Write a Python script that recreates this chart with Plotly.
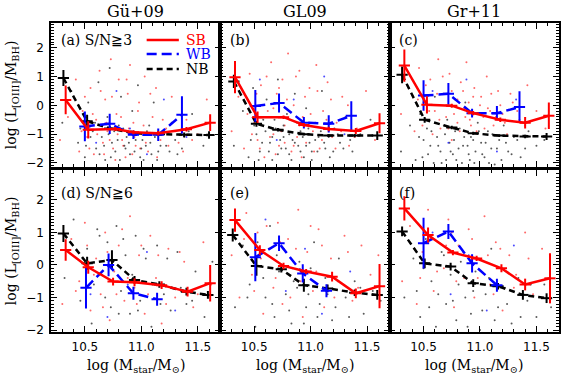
import plotly.graph_objects as go

COL_TITLES = ["Gü+09", "GL09", "Gr+11"]
PANEL_LABELS = ["(a) S/N≧3", "(b)", "(c)", "(d) S/N≧6", "(e)", "(f)"]
X_TICKS = [10.5, 11.0, 11.5]
X_TICK_TEXT = ["10.5", "11.0", "11.5"]
Y_TICKS = [-2, -1, 0, 1, 2]
X_TITLE = "log (M<sub>star</sub>/M<sub>⊙</sub>)"
Y_TITLE = "log (L<sub>[OIII]</sub>/M<sub>BH</sub>)"
LEGEND_NAMES = ["SB", "WB", "NB"]

# ---- binned medians (x, y, error) per panel ----
SB_X = [[10.33, 10.53, 10.77, 10.93, 11.15, 11.40, 11.61],
        [10.33, 10.53, 10.76, 10.94, 11.16, 11.40, 11.61],
        [10.33, 10.53, 10.75, 10.94, 11.18, 11.40, 11.61],
        [10.33, 10.53, 10.75, 10.94, 11.18, 11.41, 11.61],
        [10.33, 10.55, 10.76, 10.96, 11.19, 11.40, 11.61],
        [10.33, 10.54, 10.76, 10.97, 11.19, 11.40, 11.62]]
SB_Y = [[0.19, -0.85, -0.82, -0.93, -0.97, -0.83, -0.60],
        [0.98, -0.41, -0.41, -0.68, -0.82, -0.89, -0.62],
        [1.38, 0.02, -0.01, -0.27, -0.50, -0.60, -0.36],
        [0.46, -0.07, -0.51, -0.53, -0.62, -0.82, -0.56],
        [1.38, 0.46, -0.03, -0.20, -0.36, -0.87, -0.65],
        [1.74, 0.92, 0.38, 0.20, -0.10, -0.60, -0.41]]
SB_ERR = [[0.50, 0.30, 0.07, 0.07, 0.08, 0.08, 0.29],
          [0.56, 0.20, 0.06, 0.07, 0.08, 0.10, 0.35],
          [0.56, 0.30, 0.07, 0.07, 0.08, 0.20, 0.46],
          [0.33, 0.20, 0.12, 0.12, 0.12, 0.15, 0.56],
          [0.36, 0.15, 0.10, 0.08, 0.15, 0.15, 0.68],
          [0.37, 0.23, 0.08, 0.08, 0.12, 0.18, 0.77]]

WB_X = [[10.50, 10.72, 10.93, 11.15, 11.36],
        [10.51, 10.72, 10.94, 11.16, 11.36],
        [10.50, 10.72, 10.93, 11.15, 11.35],
        [10.51, 10.71, 10.93, 11.14],
        [10.51, 10.72, 10.93, 11.14],
        [10.50, 10.72, 10.93, 11.15]]
WB_Y = [[-0.73, -0.64, -1.02, -1.02, -0.33],
        [-0.02, 0.08, -0.60, -0.64, -0.36],
        [0.34, 0.40, -0.27, -0.27, -0.06],
        [-0.70, 0.00, -0.87, -1.05],
        [0.24, 0.67, -0.26, -0.79],
        [0.67, 1.03, 0.05, -0.62]]
WB_ERR = [[0.52, 0.35, 0.15, 0.22, 0.65],
          [0.55, 0.33, 0.20, 0.30, 0.50],
          [0.53, 0.38, 0.15, 0.25, 0.55],
          [0.64, 0.35, 0.20, 0.20],
          [0.74, 0.24, 0.28, 0.20],
          [0.78, 0.23, 0.28, 0.20]]

NB_X = [[10.31, 10.52, 10.72, 10.94, 11.16, 11.38, 11.60],
        [10.32, 10.52, 10.71, 10.94, 11.16, 11.39, 11.59],
        [10.31, 10.51, 10.75, 10.94, 11.17, 11.40, 11.59],
        [10.31, 10.52, 10.74, 10.94, 11.16, 11.40, 11.59],
        [10.31, 10.52, 10.74, 10.94, 11.15, 11.39, 11.59],
        [10.31, 10.51, 10.74, 10.94, 11.16, 11.38, 11.59]]
NB_Y = [[0.95, -0.55, -0.80, -0.97, -1.00, -1.02, -1.03],
        [0.83, -0.64, -0.85, -1.00, -1.05, -1.05, -1.05],
        [1.06, -0.50, -0.77, -0.97, -1.05, -1.08, -1.08],
        [0.97, 0.05, 0.15, -0.46, -0.60, -0.82, -0.92],
        [0.92, -0.03, -0.13, -0.62, -0.72, -0.85, -0.92],
        [1.03, 0.05, -0.05, -0.56, -0.65, -0.92, -1.02]]
NB_ERR = [[0.28, 0.22, 0.08, 0.06, 0.06, 0.08, 0.13],
          [0.23, 0.10, 0.06, 0.05, 0.05, 0.06, 0.15],
          [0.29, 0.10, 0.06, 0.05, 0.05, 0.06, 0.12],
          [0.26, 0.20, 0.30, 0.12, 0.10, 0.12, 0.12],
          [0.20, 0.30, 0.10, 0.20, 0.12, 0.10, 0.15],
          [0.15, 0.15, 0.12, 0.12, 0.10, 0.15, 0.15]]

# ---- individual galaxies (sparse reading of the point clouds) ----
DOTS_SB = [
    [(10.28,-1.2),(10.35,-0.4),(10.42,0.9),(10.45,-1.6),(10.48,-0.2),(10.52,-1.1),(10.55,0.6),(10.58,-1.7),(10.6,-0.5),(10.63,1.2),(10.66,-1.3),(10.68,0.2),(10.7,-0.9),(10.73,1.6),(10.75,-1.5),(10.78,-0.3),(10.8,0.9),(10.83,-1.2),(10.86,-1.8),(10.88,0.4),(10.9,1.4),(10.93,-0.6),(10.95,-1.4),(10.98,0.1),(11.0,-1.0),(11.03,1.0),(11.06,-1.6),(11.1,-0.4),(11.13,0.6),(11.17,-1.2),(11.22,-0.8),(11.27,0.3),(11.33,-1.3),(11.4,-0.5),(11.5,-1.0),(11.58,0.2),
     (10.47,-0.9),(10.5,0.3),(10.54,-1.5),(10.57,-0.3),(10.61,-1.0),(10.64,0.5),(10.67,-1.7),(10.69,-0.6),(10.72,-1.2),(10.74,0.3),(10.77,-1.9),(10.79,-1.0),(10.82,-0.4),(10.84,-1.4),(10.87,0.9),(10.89,-0.8),(10.92,-1.7),(10.94,-1.1),(10.97,-0.2),(10.99,-1.5),(11.02,-0.7),(11.04,-1.3),(11.08,0.4),(11.11,-1.0),(11.14,-1.8),(11.19,-0.5),(11.24,-1.4),(11.3,-0.9),(11.37,-1.6),(11.45,-1.2)],
    [(10.3,-0.9),(10.36,0.3),(10.41,-1.5),(10.46,1.1),(10.5,-0.6),(10.53,-1.2),(10.56,0.7),(10.59,-1.8),(10.62,-0.2),(10.65,1.5),(10.67,-1.0),(10.7,0.4),(10.72,-1.4),(10.75,0.9),(10.77,-0.7),(10.8,1.8),(10.83,-1.6),(10.85,0.0),(10.88,-1.1),(10.9,1.2),(10.93,-0.4),(10.96,-1.3),(10.99,0.6),(11.02,-0.9),(11.05,1.4),(11.08,-1.5),(11.11,-0.2),(11.15,0.8),(11.19,-1.1),(11.23,-0.6),(11.28,0.3),(11.34,-1.4),(11.41,-0.8),(11.49,0.5),(11.57,-1.2),
     (10.44,-0.3),(10.48,-1.0),(10.52,0.4),(10.55,-1.5),(10.58,-0.4),(10.61,1.0),(10.64,-1.1),(10.67,-0.1),(10.69,-1.7),(10.72,0.6),(10.74,-0.9),(10.77,-1.3),(10.79,0.2),(10.82,-0.5),(10.85,-1.4),(10.87,1.0),(10.9,-0.7),(10.92,-1.8),(10.95,0.3),(10.98,-1.0),(11.0,-0.3),(11.03,-1.6),(11.06,0.5),(11.1,-1.2),(11.14,-0.5),(11.18,0.2),(11.22,-1.5),(11.27,-0.9),(11.33,0.0),(11.39,-1.1)],
    [(10.3,-0.3),(10.37,0.6),(10.42,-0.9),(10.46,1.3),(10.5,0.1),(10.53,-0.5),(10.56,0.9),(10.6,-0.2),(10.63,1.6),(10.65,-0.8),(10.68,0.4),(10.7,-0.4),(10.73,1.1),(10.75,-1.2),(10.78,0.2),(10.8,-0.6),(10.83,0.8),(10.86,-0.1),(10.88,1.5),(10.91,-0.5),(10.94,0.3),(10.97,-0.9),(11.0,0.0),(11.03,-0.4),(11.06,1.0),(11.09,-0.2),(11.12,-0.7),(11.16,0.5),(11.2,-0.3),(11.24,-1.0),(11.29,0.1),(11.35,-0.5),(11.42,0.7),(11.5,-0.2),(11.58,-0.8),
     (10.45,0.2),(10.49,-0.7),(10.52,0.7),(10.55,-0.2),(10.58,-1.0),(10.62,0.4),(10.64,-0.5),(10.67,1.0),(10.7,0.0),(10.72,-0.8),(10.75,0.5),(10.77,-0.3),(10.8,0.2),(10.82,-0.9),(10.85,0.5),(10.87,-0.4),(10.9,0.1),(10.92,-0.7),(10.95,0.6),(10.98,-0.3),(11.01,0.3),(11.04,-0.8),(11.07,-0.1),(11.1,0.4),(11.14,-0.4),(11.18,0.0),(11.22,-0.6),(11.27,0.4),(11.33,-0.2),(11.4,-0.7)],
    [(10.3,-1.2),(10.38,0.8),(10.45,-0.5),(10.5,1.3),(10.55,-1.4),(10.6,0.2),(10.64,-0.9),(10.68,1.0),(10.72,-1.7),(10.76,-0.2),(10.8,0.6),(10.85,-1.1),(10.9,1.5),(10.94,-0.7),(10.98,0.3),(11.03,-1.5),(11.08,0.9),(11.13,-0.4),(11.18,-1.8),(11.24,0.5),(11.3,-1.0),(11.38,0.1),(11.46,-1.3),(11.55,0.7),(11.62,-0.6),
     (10.42,-0.8),(10.52,0.6),(10.58,-0.3),(10.66,-1.3),(10.7,0.4),(10.78,-0.9),(10.83,1.1),(10.88,-0.4),(10.96,-1.2),(11.0,0.6),(11.06,-0.9),(11.15,0.3),(11.22,-1.2),(11.34,0.4),(11.5,-0.9)],
    [(10.3,0.3),(10.37,-1.0),(10.43,1.6),(10.48,-0.3),(10.53,1.0),(10.58,-1.5),(10.63,0.5),(10.67,-0.7),(10.71,1.3),(10.75,-1.2),(10.8,0.8),(10.84,-0.1),(10.89,1.7),(10.93,-1.6),(10.97,0.4),(11.02,-0.8),(11.07,1.1),(11.12,-1.3),(11.18,0.2),(11.24,-0.5),(11.3,0.9),(11.37,-1.1),(11.45,0.6),(11.53,-0.3),(11.6,0.3),
     (10.41,0.8),(10.5,-0.8),(10.56,0.2),(10.61,1.2),(10.69,-0.4),(10.73,0.7),(10.82,-1.0),(10.87,0.5),(10.91,-0.5),(11.0,1.2),(11.05,-0.2),(11.1,0.6),(11.21,-1.0),(11.33,0.4),(11.42,-0.7)],
    [(10.31,-0.5),(10.38,1.2),(10.44,-1.2),(10.49,0.4),(10.54,1.7),(10.59,-0.8),(10.64,0.9),(10.68,-0.1),(10.72,1.4),(10.77,-1.3),(10.81,0.6),(10.86,-0.4),(10.9,1.1),(10.95,-1.0),(10.99,0.2),(11.04,1.5),(11.09,-0.6),(11.14,0.7),(11.2,-1.4),(11.26,0.3),(11.32,-0.3),(11.4,1.0),(11.47,-0.9),(11.55,0.5),(11.62,-0.2),
     (10.42,0.5),(10.47,-0.4),(10.56,0.8),(10.62,-0.2),(10.7,0.6),(10.75,1.0),(10.79,-0.5),(10.85,0.4),(10.93,0.8),(10.98,-0.4),(11.07,0.3),(11.12,-0.9),(11.18,0.5),(11.3,-0.7),(11.43,0.2)],
]
DOTS_NB = [
    [(10.3,-0.6),(10.38,0.5),(10.44,-1.3),(10.5,-1.8),(10.53,0.1),(10.57,-0.9),(10.6,-1.5),(10.62,0.8),(10.65,-1.1),(10.68,-1.9),(10.7,-0.4),(10.72,1.3),(10.74,-1.3),(10.77,-1.6),(10.8,-0.7),(10.82,0.3),(10.85,-1.4),(10.87,-1.1),(10.9,-1.7),(10.92,-0.2),(10.95,-1.2),(10.97,0.7),(11.0,-1.5),(11.02,-1.9),(11.05,-0.9),(11.08,-1.3),(11.11,0.1),(11.15,-1.6),(11.18,-1.0),(11.22,-1.4),(11.27,-0.6),(11.32,-1.7),(11.38,-1.1),(11.45,-0.3),(11.55,-1.4),
     (10.46,-0.8),(10.51,-1.4),(10.55,-1.1),(10.59,-0.6),(10.63,-1.7),(10.67,-1.4),(10.71,-1.0),(10.73,-1.8),(10.76,-0.9),(10.79,-1.2),(10.81,-1.9),(10.84,-0.8),(10.86,-1.5),(10.89,-1.3),(10.91,-0.9),(10.94,-1.6),(10.96,-1.0),(10.99,-1.8),(11.01,-1.2),(11.04,-1.4),(11.07,-0.7),(11.09,-1.7),(11.12,-1.1),(11.14,-1.9),(11.17,-1.4),(11.2,-0.9),(11.25,-1.6),(11.3,-1.2),(11.36,-1.5),(11.42,-0.9)],
    [(10.32,-1.4),(10.4,-0.2),(10.45,-1.8),(10.49,0.6),(10.52,-1.0),(10.55,-1.6),(10.58,-0.5),(10.61,0.2),(10.64,-1.3),(10.66,-1.9),(10.69,-0.8),(10.71,0.9),(10.74,-1.5),(10.76,-1.1),(10.79,-0.3),(10.81,-1.7),(10.84,-1.2),(10.86,0.4),(10.89,-1.4),(10.91,-0.9),(10.94,-1.8),(10.96,-0.1),(10.99,-1.3),(11.01,-1.6),(11.04,-0.6),(11.07,-1.1),(11.1,0.5),(11.13,-1.5),(11.17,-1.8),(11.21,-0.8),(11.26,-1.3),(11.31,-0.4),(11.37,-1.6),(11.44,-1.0),(11.53,-0.5),
     (10.47,-1.2),(10.5,-0.7),(10.54,-1.9),(10.57,-1.3),(10.6,-0.9),(10.63,-1.6),(10.66,-1.1),(10.68,-0.5),(10.71,-1.7),(10.73,-1.2),(10.76,-0.7),(10.78,-1.5),(10.81,-1.0),(10.83,-1.9),(10.86,-1.3),(10.88,-0.6),(10.91,-1.6),(10.93,-1.1),(10.96,-1.4),(10.98,-0.8),(11.01,-1.9),(11.04,-1.2),(11.06,-1.6),(11.09,-0.9),(11.12,-1.3),(11.16,-1.1),(11.2,-1.6),(11.24,-1.0),(11.29,-1.5),(11.35,-1.2)],
    [(10.3,-1.6),(10.38,-0.7),(10.43,-1.9),(10.47,-0.3),(10.5,-1.2),(10.54,-1.7),(10.57,-0.9),(10.6,0.3),(10.63,-1.4),(10.66,-2.0),(10.69,-1.0),(10.71,-0.5),(10.74,-1.6),(10.77,-1.2),(10.79,-1.9),(10.82,-0.8),(10.85,-1.4),(10.87,0.1),(10.9,-1.7),(10.92,-1.1),(10.95,-2.0),(10.98,-0.6),(11.01,-1.3),(11.04,-1.8),(11.07,-0.9),(11.1,-1.5),(11.13,-2.05),(11.17,-1.2),(11.21,-0.7),(11.25,-1.6),(11.3,-1.1),(11.36,-1.8),(11.43,-0.9),(11.5,-1.4),(11.57,-1.2),
     (10.46,-1.1),(10.49,-1.8),(10.53,-0.8),(10.56,-1.4),(10.59,-2.0),(10.62,-1.1),(10.65,-1.6),(10.68,-0.7),(10.7,-1.9),(10.73,-1.3),(10.76,-1.7),(10.78,-0.9),(10.81,-1.5),(10.84,-2.0),(10.86,-1.1),(10.89,-1.4),(10.91,-1.9),(10.94,-1.2),(10.96,-1.6),(10.99,-0.9),(11.02,-1.7),(11.05,-1.3),(11.08,-2.0),(11.11,-1.0),(11.15,-1.5),(11.19,-1.9),(11.23,-1.3),(11.28,-1.7),(11.33,-1.2),(11.4,-1.5)],
    [(10.32,-0.4),(10.4,1.4),(10.46,-1.1),(10.52,0.5),(10.56,-1.8),(10.61,1.1),(10.65,-0.3),(10.7,0.7),(10.73,-1.3),(10.78,1.2),(10.82,-0.8),(10.86,0.3),(10.9,-1.5),(10.95,0.9),(10.99,-1.1),(11.04,0.2),(11.09,-1.9),(11.14,0.6),(11.2,-0.9),(11.26,-1.4),(11.32,0.4),(11.4,-1.2),(11.48,-0.2),(11.56,-1.6),(11.63,0.1),
     (10.48,0.2),(10.58,-0.6),(10.63,0.9),(10.68,-1.0),(10.75,0.1),(10.8,-1.5),(10.84,0.8),(10.92,-0.3),(10.97,-1.4),(11.02,0.5),(11.1,-0.6),(11.17,-1.2),(11.23,0.2),(11.35,-0.7),(11.45,-1.1)],
    [(10.33,-1.3),(10.4,0.6),(10.46,-0.6),(10.51,-1.9),(10.55,0.3),(10.6,-1.0),(10.64,1.2),(10.68,-1.6),(10.72,-0.2),(10.76,0.5),(10.81,-1.4),(10.85,-0.5),(10.9,0.1),(10.94,-1.8),(10.98,-0.9),(11.03,0.7),(11.08,-1.2),(11.13,-0.4),(11.19,-1.7),(11.25,0.2),(11.31,-1.0),(11.39,-0.5),(11.47,-1.5),(11.55,-0.8),(11.62,-1.1),
     (10.44,-1.0),(10.53,0.7),(10.58,-0.4),(10.66,-1.2),(10.7,0.3),(10.78,-0.9),(10.83,-1.8),(10.88,-0.7),(10.96,-1.3),(11.0,-0.1),(11.06,-1.6),(11.15,-0.9),(11.22,-1.3),(11.34,-1.6),(11.44,-0.7)],
    [(10.33,-1.0),(10.41,0.2),(10.47,-1.6),(10.52,0.8),(10.57,-0.5),(10.61,-1.9),(10.66,0.4),(10.7,-1.2),(10.74,-0.3),(10.79,-1.7),(10.83,0.1),(10.87,-1.0),(10.92,-1.5),(10.96,-0.2),(11.0,-2.0),(11.05,-0.9),(11.1,0.5),(11.16,-1.3),(11.22,-0.7),(11.28,-1.8),(11.34,-0.4),(11.42,-1.1),(11.5,-1.6),(11.57,-0.6),(11.63,-1.3),
     (10.44,-0.8),(10.5,-0.1),(10.55,-1.3),(10.63,-0.9),(10.68,0.3),(10.76,-1.1),(10.81,-0.6),(10.89,-1.9),(10.94,-0.8),(11.02,-1.4),(11.08,-0.4),(11.13,-1.7),(11.24,-1.2),(11.36,-1.6),(11.45,-0.6)],
]
DOTS_WB = [
    [(10.6,-1.3),(10.78,0.5),(10.9,-0.8),(11.05,-1.7),(11.2,0.2),(11.4,-1.1)],
    [(10.55,0.9),(10.7,-1.2),(10.85,0.2),(10.98,-0.7),(11.12,1.0),(11.3,-1.0)],
    [(10.58,0.5),(10.72,-1.3),(10.88,0.9),(11.0,-0.3),(11.15,-1.6),(11.32,0.2)],
    [(10.55,-0.9),(10.7,-1.6),(10.88,-0.6),(11.05,0.4),(11.3,-1.4)],
    [(10.6,1.4),(10.78,-0.8),(10.95,0.5),(11.1,-1.5),(11.35,-0.2)],
    [(10.58,1.0),(10.74,-0.9),(10.9,0.3),(11.06,-1.4),(11.3,0.6)],
]

RED, BLUE, BLACK = "#ff0000", "#0000ff", "#000000"
DASH_WB, DASH_NB = "10px,5px", "6px,4px"
SERIF = "DejaVu Serif"
SANS = "DejaVu Sans"

XDOM = [[0.0, 0.3333], [0.3333, 0.6667], [0.6667, 1.0]]
YDOM = [[0.534, 1.0], [0.0, 0.5243]]
YRANGE = [[-2.14, 2.86], [-2.06, 2.92]]
XRANGE = [10.2, 11.7]

fig = go.Figure()
layout = dict(
    width=567, height=378, margin=dict(l=51, r=6, t=23, b=46),
    paper_bgcolor="white", plot_bgcolor="white", showlegend=False,
    font=dict(family=SERIF, size=14, color="black"),
)

for i in range(6):
    row, col = divmod(i, 3)
    k = i + 1
    xa = "x" if k == 1 else f"x{k}"
    ya = "y" if k == 1 else f"y{k}"
    layout["xaxis" if k == 1 else f"xaxis{k}"] = dict(
        domain=XDOM[col], anchor=ya, range=XRANGE,
        tickvals=X_TICKS, ticktext=X_TICK_TEXT, showticklabels=(row == 1),
        ticks="inside", ticklen=6, tickwidth=1, tickcolor="black",
        minor=dict(dtick=0.1, tick0=10.2, ticks="inside", ticklen=3, tickcolor="black"),
        mirror="ticks", showline=True, linewidth=1.5, linecolor="black",
        showgrid=False, zeroline=False,
        tickfont=dict(family=SANS, size=12), ticklabelstandoff=3,
    )
    layout["yaxis" if k == 1 else f"yaxis{k}"] = dict(
        domain=YDOM[row], anchor=xa, range=YRANGE[row],
        tickvals=Y_TICKS, showticklabels=(col == 0),
        ticks="inside", ticklen=6, tickwidth=1, tickcolor="black",
        minor=dict(dtick=0.1, tick0=0, ticks="inside", ticklen=3, tickcolor="black"),
        mirror="ticks", showline=True, linewidth=1.5, linecolor="black",
        showgrid=False, zeroline=False,
        tickfont=dict(family=SANS, size=12), ticklabelstandoff=3,
    )

    for dots, c in ((DOTS_SB[i], "rgba(255,40,40,0.7)"), (DOTS_NB[i], "rgba(0,0,0,0.65)"),
                    (DOTS_WB[i], "rgba(0,0,255,0.7)")):
        fig.add_trace(go.Scatter(
            x=[p[0] for p in dots], y=[p[1] for p in dots], mode="markers",
            marker=dict(size=2, color=c, line=dict(width=0)),
            xaxis=xa, yaxis=ya, hoverinfo="skip"))

    for xs, ys, es, color, dash in ((NB_X[i], NB_Y[i], NB_ERR[i], BLACK, DASH_NB),
                                     (WB_X[i], WB_Y[i], WB_ERR[i], BLUE, DASH_WB),
                                     (SB_X[i], SB_Y[i], SB_ERR[i], RED, "solid")):
        fig.add_trace(go.Scatter(
            x=xs, y=ys, mode="lines+markers",
            line=dict(color=color, width=2.5, dash=dash),
            marker=dict(symbol="line-ew", size=8, color=color, line=dict(width=2, color=color)),
            error_y=dict(type="data", array=es, visible=True, color=color, thickness=2, width=0),
            xaxis=xa, yaxis=ya))

annotations = []
for col in range(3):
    k = col + 1
    annotations.append(dict(text=COL_TITLES[col], xref=("x" if k == 1 else f"x{k}") + " domain",
                            x=0.5, yref="paper", y=1.036, xanchor="center", yanchor="middle",
                            showarrow=False, font=dict(size=16)))
    k2 = col + 4
    annotations.append(dict(text=X_TITLE, xref=f"x{k2} domain", x=0.5, yref="paper", y=-0.11,
                            xanchor="center", yanchor="middle", showarrow=False,
                            font=dict(size=14)))
for i in range(6):
    row = i // 3
    k = i + 1
    xa = "x" if k == 1 else f"x{k}"
    ya = "y" if k == 1 else f"y{k}"
    annotations.append(dict(text=PANEL_LABELS[i], xref=xa + " domain", x=0.045,
                            yref=ya + " domain", y=(0.882 if row == 0 else 0.858),
                            xanchor="left", yanchor="middle", showarrow=False,
                            font=dict(size=14)))
for ya in ("y", "y4"):
    annotations.append(dict(text=Y_TITLE, xref="paper", x=-0.0765, yref=ya + " domain", y=0.5,
                            xanchor="center", yanchor="middle", textangle=-90,
                            showarrow=False, font=dict(size=14)))

# legend (panel a)
shapes = []
leg_y = [0.882, 0.785, 0.68]
leg_col = [RED, BLUE, BLACK]
leg_dash = ["solid", DASH_WB, DASH_NB]
for name, yy, c, d in zip(LEGEND_NAMES, leg_y, leg_col, leg_dash):
    shapes.append(dict(type="line", xref="x domain", yref="y domain", x0=0.565, x1=0.755,
                       y0=yy, y1=yy, line=dict(color=c, width=2.5, dash=d)))
    annotations.append(dict(text=name, xref="x domain", yref="y domain", x=0.79, y=yy,
                            xanchor="left", yanchor="middle", showarrow=False, borderpad=0,
                            font=dict(size=14, color=c)))

layout["annotations"] = annotations
layout["shapes"] = shapes
fig.update_layout(**layout)
# remove the browser's default 8px page margin so the figure sits at the window origin
fig.write_html("out.html", config={"displayModeBar": False},
               post_script="document.body.style.margin='0px';")
